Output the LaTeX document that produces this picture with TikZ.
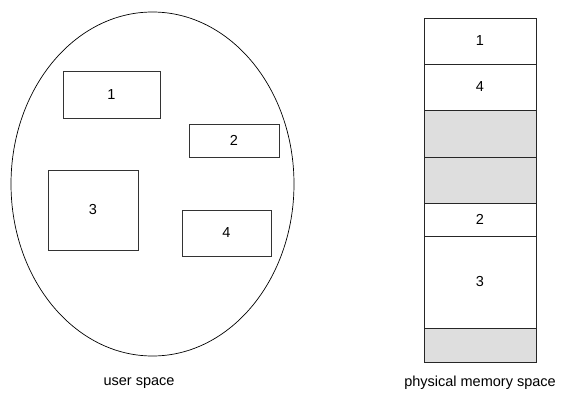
\documentclass[tikz,border=0pt]{standalone}
\usepackage{fontspec}
\setmainfont{Liberation Sans}
\usetikzlibrary{positioning,shapes.geometric}

\tikzset{
  page/.style={draw=black!80, line width=0.8pt, minimum width=#1, inner sep=0pt, outer sep=0pt, font=\fontsize{14.5}{17}\selectfont},
  cell/.style={draw=black!85, line width=0.8pt, minimum width=112pt, minimum height=#1, inner sep=0pt, outer sep=0pt, font=\fontsize{14.5}{17}\selectfont},
  free/.style={cell=#1, fill=black!13},
  caption/.style={font=\fontsize{14.5}{17}\selectfont}
}

\begin{document}
\begin{tikzpicture}[x=1pt, y=-1pt]
  \useasboundingbox (0,0) rectangle (566,410);

  % Define nodes: user space
  \node[ellipse, draw, line width=0.7pt, minimum width=283pt, minimum height=344pt, inner sep=0pt] (user) at (152.5,184) {};
  \node[page=97pt, minimum height=47pt] (p1) at (111.5,94.5) {1};
  \node[page=90pt, minimum height=33pt] (p2) at (234,140.5) {2};
  \node[page=90pt, minimum height=80pt] (p3) at (93,210) {3};
  \node[page=89pt, minimum height=46pt] (p4) at (226.5,233) {4};
  \node[caption] (ulabel) at (139,383) {user space};

  % Define nodes: physical memory
  \node[cell=46pt, anchor=north] (m1) at (480,18) {1};
  \node[cell=46pt, below=0pt of m1] (m2) {4};
  \node[free=47pt, below=0pt of m2] (m3) {};
  \node[free=46pt, below=0pt of m3] (m4) {};
  \node[cell=33pt, below=0pt of m4] (m5) {2};
  \node[cell=92pt, below=0pt of m5] (m6) {3};
  \node[free=34pt, below=0pt of m6] (m7) {};
  \node[caption] (mlabel) at (480,383) {physical memory space};
\end{tikzpicture}
\end{document}
